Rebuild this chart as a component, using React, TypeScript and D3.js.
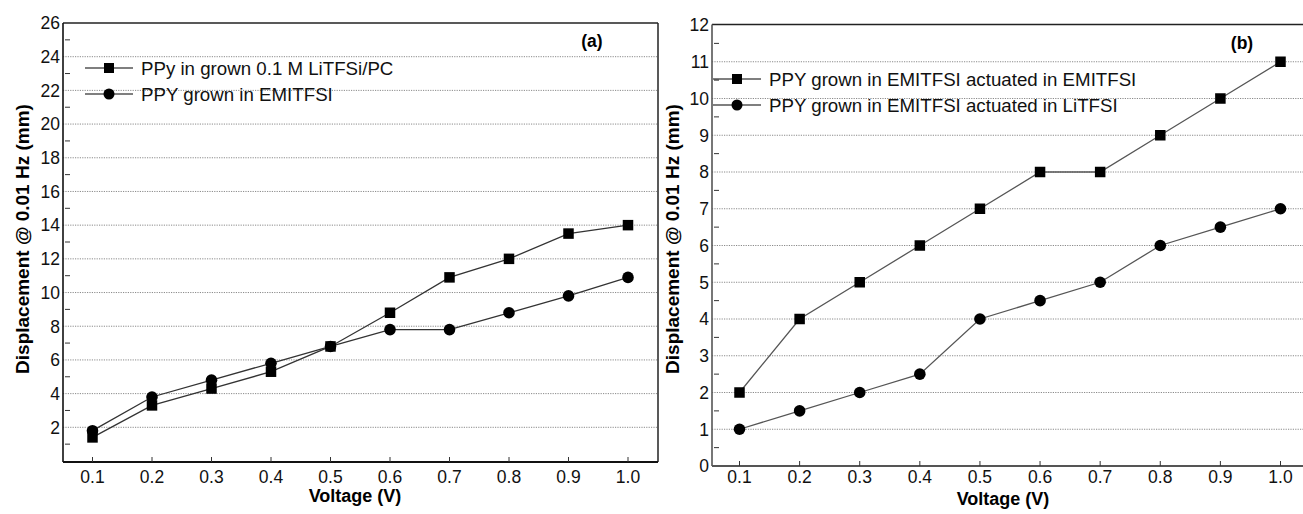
import React from "react";
import * as d3 from "d3";

const voltages = [0.1, 0.2, 0.3, 0.4, 0.5, 0.6, 0.7, 0.8, 0.9, 1.0];
const xTickLabels = ["0.1", "0.2", "0.3", "0.4", "0.5", "0.6", "0.7", "0.8", "0.9", "1.0"];

// Panel (a)
const aSquare = [1.4, 3.3, 4.3, 5.3, 6.8, 8.8, 10.9, 12.0, 13.5, 14.0];
const aCircle = [1.8, 3.8, 4.8, 5.8, 6.8, 7.8, 7.8, 8.8, 9.8, 10.9];
const aYTicks = [2, 4, 6, 8, 10, 12, 14, 16, 18, 20, 22, 24, 26];
const aYMinor = [1, 3, 5, 7, 9, 11, 13, 15, 17, 19, 21, 23, 25];
const aLegend = ["PPy in grown 0.1 M LiTFSi/PC", "PPY grown in EMITFSI"];

// Panel (b)
const bSquare = [2, 4, 5, 6, 7, 8, 8, 9, 10, 11];
const bCircle = [1, 1.5, 2, 2.5, 4, 4.5, 5, 6, 6.5, 7];
const bYTicks = [0, 1, 2, 3, 4, 5, 6, 7, 8, 9, 10, 11, 12];
const bYMinor = [0.5, 1.5, 2.5, 3.5, 4.5, 5.5, 6.5, 7.5, 8.5, 9.5, 10.5, 11.5];
const bLegend = ["PPY grown in EMITFSI actuated in EMITFSI", "PPY grown in EMITFSI actuated in LiTFSI"];

const FONT = "'Liberation Sans', Arial, sans-serif";

type PanelProps = {
  left: number; top: number; right: number; bottom: number;
  x0: number; x1: number;
  yMax: number; yBottom: number; yTop: number;
  yTicks: number[]; yMinor: number[];
  sq: number[]; ci: number[];
  legend: string[];
  legendX: number; legendY: number[];
  tag: string; tagX: number; tagY: number;
  yLabelX: number; xLabelX: number; xLabelY: number;
  rightBorder: boolean;
  lineColor: string; axisColor: string;
  gridFrom: number; gridTo: number;
  yGridTicks: number[];
};

function Panel(p: PanelProps) {
  const x = d3.scaleLinear().domain([0.1, 1.0]).range([p.x0, p.x1]);
  const y = d3.scaleLinear().domain([0, p.yMax]).range([p.yBottom, p.yTop]);
  const line = d3.line<number>().x((_, i) => x(voltages[i])).y((d) => y(d));
  const sqSize = 10.5;
  const r = 5.8;
  return (
    <g>
      {/* gridlines */}
      {p.yGridTicks.map((t) => (
        <line key={"g" + t} x1={p.gridFrom} x2={p.gridTo} y1={y(t)} y2={y(t)}
          stroke="#8a8a8a" strokeWidth={1} strokeDasharray="1.2,1.2" />
      ))}
      {/* frame */}
      <line x1={p.left} x2={p.right} y1={p.top} y2={p.top} stroke="#222" strokeWidth={1.5} />
      {p.rightBorder && <line x1={p.right} x2={p.right} y1={p.top} y2={p.bottom} stroke="#222" strokeWidth={1.5} />}
      <line x1={p.left} x2={p.left} y1={p.top} y2={p.bottom} stroke={p.axisColor} strokeWidth={1.6} />
      <line x1={p.left} x2={p.right} y1={p.bottom} y2={p.bottom} stroke={p.axisColor} strokeWidth={1.8} />
      {/* minor y ticks */}
      {p.yMinor.map((t) => (
        <line key={"m" + t} x1={p.left + 2} x2={p.left + 7} y1={y(t)} y2={y(t)} stroke="#333" strokeWidth={1} />
      ))}
      {/* y tick labels */}
      {p.yTicks.map((t) => (
        <text key={"yt" + t} x={p.left - 3} y={y(t)} dy="0.36em" textAnchor="end"
          fontFamily={FONT} fontSize={17.5} fill="#111">{t}</text>
      ))}
      {/* x ticks */}
      {voltages.map((v, i) => (
        <g key={"xt" + i}>
          <line x1={x(v)} x2={x(v)} y1={p.bottom} y2={p.bottom - 5} stroke="#333" strokeWidth={1} />
          <text x={x(v)} y={477} dy="0.36em" textAnchor="middle" fontFamily={FONT} fontSize={17.5} fill="#111">
            {xTickLabels[i]}
          </text>
        </g>
      ))}
      {/* axis titles */}
      <text x={p.xLabelX} y={p.xLabelY} textAnchor="middle" fontFamily={FONT} fontWeight="bold" fontSize={18}
        fill="#000">Voltage (V)</text>
      <text transform={`translate(${p.yLabelX},239) rotate(-90)`} textAnchor="middle" dy="0.35em"
        fontFamily={FONT} fontWeight="bold" fontSize={19} fill="#000">Displacement @ 0.01 Hz (mm)</text>
      <text x={p.tagX} y={p.tagY} textAnchor="middle" fontFamily={FONT} fontWeight="bold" fontSize={17.5}
        fill="#000">{p.tag}</text>
      {/* series lines */}
      <path d={line(p.sq) || ""} fill="none" stroke={p.lineColor} strokeWidth={1.3} />
      <path d={line(p.ci) || ""} fill="none" stroke={p.lineColor} strokeWidth={1.3} />
      {p.sq.map((d, i) => (
        <rect key={"s" + i} x={x(voltages[i]) - sqSize / 2} y={y(d) - sqSize / 2} width={sqSize} height={sqSize} fill="#000" />
      ))}
      {p.ci.map((d, i) => (
        <circle key={"c" + i} cx={x(voltages[i])} cy={y(d)} r={r} fill="#000" />
      ))}
      {/* legend */}
      {p.legend.map((label, i) => (
        <g key={"lg" + i}>
          <line x1={p.legendX} x2={p.legendX + 48} y1={p.legendY[i]} y2={p.legendY[i]} stroke="#000" strokeWidth={1.2} />
          {i === 0 ? (
            <rect x={p.legendX + 24 - 5} y={p.legendY[i] - 5} width={10} height={10} fill="#000" />
          ) : (
            <circle cx={p.legendX + 24} cy={p.legendY[i]} r={5.5} fill="#000" />
          )}
          <text x={p.legendX + 56} y={p.legendY[i]} dy="0.36em" fontFamily={FONT} fontSize={18.7} fill="#111">{label}</text>
        </g>
      ))}
    </g>
  );
}

export default function App() {
  return (
    <svg width={1303} height={514} style={{ position: "absolute", left: 0, top: 0, background: "#fff" }}>
      <rect width={1303} height={514} fill="#fff" />
      <Panel left={63} top={23} right={658} bottom={462} x0={92.5} x1={628}
        yMax={26} yBottom={461} yTop={23}
        yTicks={aYTicks} yMinor={aYMinor} yGridTicks={aYTicks.filter((t) => t < 26)}
        sq={aSquare} ci={aCircle} legend={aLegend}
        legendX={85} legendY={[68, 94]}
        tag="(a)" tagX={592} tagY={47}
        yLabelX={22} xLabelX={355} xLabelY={502}
        rightBorder={true} lineColor="#333" axisColor="#111"
        gridFrom={63} gridTo={658} />
      <Panel left={712} top={24.5} right={1303} bottom={466} x0={739.5} x1={1280.5}
        yMax={12} yBottom={466} yTop={25}
        yTicks={bYTicks} yMinor={bYMinor} yGridTicks={bYTicks.filter((t) => t > 0 && t < 12)}
        sq={bSquare} ci={bCircle} legend={bLegend}
        legendX={713} legendY={[79, 105]}
        tag="(b)" tagX={1242} tagY={49}
        yLabelX={672} xLabelX={1003} xLabelY={505}
        rightBorder={false} lineColor="#555" axisColor="#555"
        gridFrom={712} gridTo={1303} />
    </svg>
  );
}
